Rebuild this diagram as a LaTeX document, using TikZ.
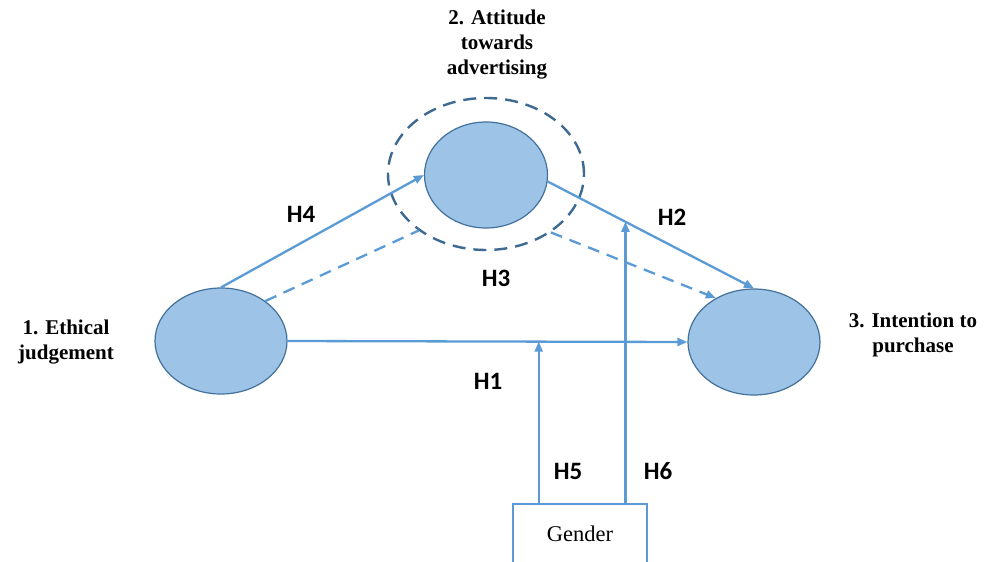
\documentclass[tikz,border=0pt]{standalone}
\usepackage{fontspec}
\setmainfont{Liberation Serif}
\newfontfamily\hfont{Carlito}
\usetikzlibrary{shapes.geometric,arrows.meta,calc}
\definecolor{lineblue}{HTML}{5B9BD5}
\definecolor{fillblue}{HTML}{9DC3E6}
\definecolor{edgeblue}{HTML}{41719C}
\definecolor{ringblue}{HTML}{3E6A92}
\begin{document}
\begin{tikzpicture}[x=1pt,y=-1pt,
  construct/.style={ellipse, draw=edgeblue, fill=fillblue, line width=1.2pt,
    minimum width=132pt, minimum height=106pt, inner sep=0pt},
  ringnode/.style={ellipse, draw=ringblue, dash pattern=on 13pt off 8pt,
    line width=2.4pt, minimum width=196pt, minimum height=152pt, inner sep=0pt},
  gbox/.style={rectangle, draw=lineblue, line width=2.6pt, minimum width=134pt,
    minimum height=60pt, inner sep=0pt, font=\fontsize{22.5}{26}\selectfont},
  link/.style={draw=lineblue, line width=2.3pt, -{Triangle[length=10pt,width=8pt]}},
  dlink/.style={draw=lineblue, line width=2.3pt, dash pattern=on 12pt off 8pt},
  lbl/.style={align=center, inner sep=0pt, font=\fontsize{21}{25}\selectfont\bfseries},
  hlbl/.style={inner sep=0pt, font=\hfont\fontsize{25}{28}\selectfont\bfseries}]
\useasboundingbox (0,0) rectangle (989,562);
\clip (0,0) rectangle (989,562);
\fill[white] (0,0) rectangle (989,562);
% constructs
\node[construct] (ej) at (221,341) {};
\node[construct, minimum width=123pt] (att) at (486,175) {};
\node[construct] (ip) at (754,342) {};
\node[ringnode] (rg) at (486,174) {};
\node[gbox] (g) at (580,534) {Gender};
% connectors
\draw[link] (ej.east) -- (ip.west);
\draw[link] (ej.north) -- (att.west);
\draw[link] (att.-6) -- (ip.north);
\draw[dlink] (ej.42) -- (rg.220);
\draw[dlink, -{Triangle[length=10pt,width=8pt]}] (rg.-42) -- (ip.131);
\coordinate (h5t) at ($(ej.east)!0.628!(ip.west)$);
\coordinate (h6t) at ($(att.-6)!0.377!(ip.north)$);
\draw[link] (g.north -| h5t) -- (h5t);
\draw[link] (g.north -| h6t) -- (h6t);
% text labels
\node[lbl] (tatt) at (497,45) {2. Attitude\\towards\\advertising};
\node[lbl] (tej) at (66,342) {1. Ethical\\judgement};
\node[lbl] (tip) at (913,335) {3. Intention to\\purchase};
% hypothesis labels
\node[hlbl] (h1) at (488,381) {H1};
\node[hlbl] (h2) at (672,217) {H2};
\node[hlbl] (h3) at (496,278) {H3};
\node[hlbl] (h4) at (301,214) {H4};
\node[hlbl] (h5) at (568,471) {H5};
\node[hlbl] (h6) at (658,471) {H6};
\end{tikzpicture}
\end{document}
